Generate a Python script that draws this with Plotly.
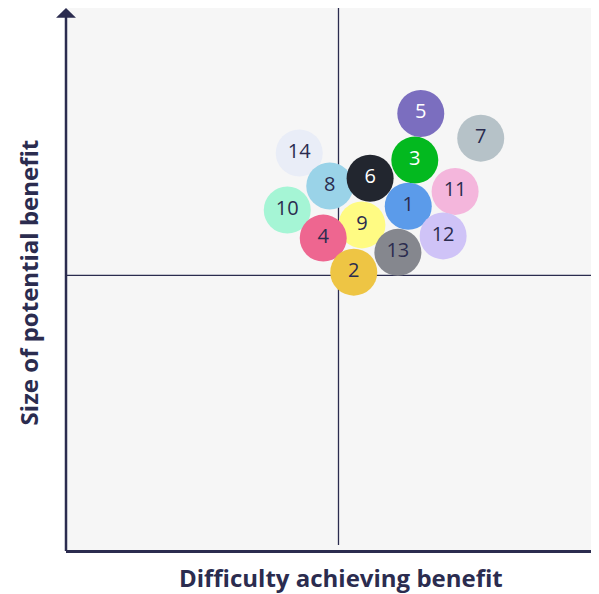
import plotly.graph_objects as go

labels = ['1', '2', '3', '4', '5', '6', '7', '8', '9', '10', '11', '12', '13', '14']
difficulty = [62.8, 52.8, 64.0, 47.2, 65.1, 55.8, 76.1, 48.4, 54.3, 40.6, 71.4, 69.2, 60.9, 42.8]
benefit = [62.6, 50.6, 71.0, 56.8, 79.5, 67.7, 75.0, 66.3, 59.2, 61.9, 65.3, 57.2, 54.2, 72.3]
colors = ['#5b9bea', '#eec544', '#03b91f', '#ee6690', '#7b6ebf', '#22262f', '#b6c2c8',
          '#9ad3e8', '#fffb83', '#a5f5d5', '#f4b6dc', '#cfc3f7', '#85878e', '#e9edf7']
text_colors = ['white' if c in ('#03b91f', '#7b6ebf', '#22262f') else '#2b2c4f' for c in colors]

# draw order so the overlaps look like the original
order = [13, 9, 7, 10, 2, 4, 6, 0, 5, 11, 8, 3, 12, 1]

ink = '#2b2c4f'

fig = go.Figure()
fig.add_trace(go.Scatter(
    x=[difficulty[i] for i in order],
    y=[benefit[i] for i in order],
    text=[labels[i] for i in order],
    mode='markers+text',
    textposition='middle center',
    marker=dict(size=47, color=[colors[i] for i in order], line=dict(width=0), opacity=1),
    textfont=dict(family='Open Sans', size=20, color=[text_colors[i] for i in order]),
    hoverinfo='skip',
    cliponaxis=False,
))

# quadrant lines
fig.add_shape(type='line', xref='x', yref='paper', x0=50, x1=50, y0=0.009, y1=1,
              line=dict(color=ink, width=1.3), layer='below')
fig.add_shape(type='line', xref='paper', yref='y', x0=0, x1=1, y0=50, y1=50,
              line=dict(color=ink, width=1.3), layer='below')
# y axis with arrow
fig.add_shape(type='line', xref='paper', yref='paper', x0=0, x1=0, y0=-0.002, y1=0.985,
              line=dict(color=ink, width=2.5))
fig.add_shape(type='path', xref='paper', yref='paper',
              path='M -0.0184 0.982 L 0 1.0 L 0.0184 0.982 Z',
              fillcolor=ink, line=dict(color=ink, width=0))

fig.add_annotation(text='Difficulty achieving benefit', xref='paper', yref='paper',
                   x=0.508, y=-0.05, yanchor='middle', showarrow=False,
                   font=dict(family='Open Sans', size=24, color=ink, weight='bold'))
fig.add_annotation(text='Size of potential benefit', xref='paper', yref='paper',
                   x=-0.07, y=0.494, xanchor='center', yanchor='middle', textangle=-90,
                   showarrow=False,
                   font=dict(family='Open Sans', size=24, color=ink, weight='bold'))

fig.update_xaxes(range=[0, 99.27], showgrid=False, zeroline=False, showticklabels=False,
                 showline=True, linecolor=ink, linewidth=2.5, ticks='')
fig.update_yaxes(range=[0, 98.7], showgrid=False, zeroline=False, showticklabels=False,
                 showline=False, ticks='')
fig.update_layout(
    width=599, height=586,
    margin=dict(l=58, r=0, t=0, b=44),
    plot_bgcolor='#f6f6f6',
    paper_bgcolor='white',
    showlegend=False,
)
fig.write_html('out.html')
